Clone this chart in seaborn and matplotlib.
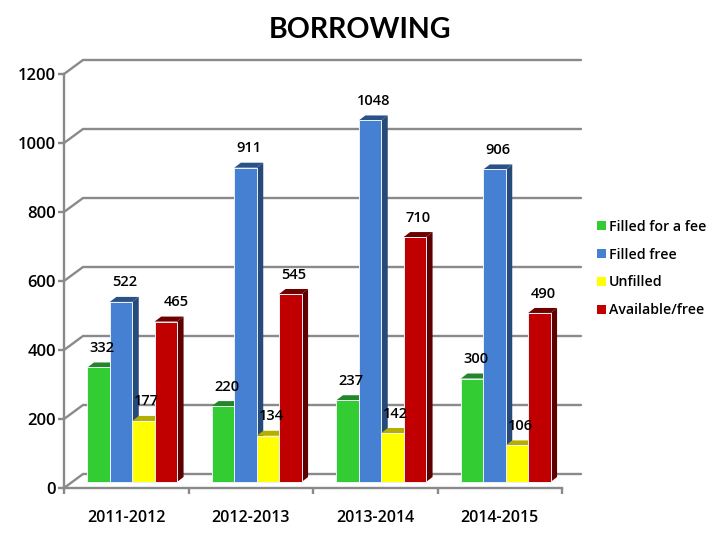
#!/usr/bin/env python3
"""Recreate the BORROWING pseudo-3D bar chart with seaborn."""

import matplotlib
matplotlib.use('Agg')
import matplotlib.pyplot as plt
from matplotlib.patches import Polygon, Patch
import pandas as pd
import seaborn as sns

years = ["2011-2012", "2012-2013", "2013-2014", "2014-2015"]
series_names = ["Filled for a fee", "Filled free", "Unfilled", "Available/free"]
filled_fee = [332, 220, 237, 300]
filled_free = [522, 911, 1048, 906]
unfilled = [177, 134, 142, 106]
available = [465, 545, 710, 490]
y_ticks = [0, 200, 400, 600, 800, 1000, 1200]

face_colors = ["#33CC33", "#4680D2", "#FFFF00", "#C00000"]
side_colors = ["#1F7F1F", "#264A7A", "#AFA800", "#5E0000"]
top_colors = ["#23862A", "#2A5288", "#B5AD00", "#6E0000"]
GRAY = "#8A8A8A"

sns.set_theme(style="white")
plt.rcParams['font.family'] = ['Open Sans', 'DejaVu Sans']

df = pd.DataFrame({
    "year": years * 4,
    "series": [n for n in series_names for _ in years],
    "value": filled_fee + filled_free + unfilled + available,
})

fig = plt.figure(figsize=(7.2, 5.4), dpi=100)
ax = fig.add_axes([64 / 720, (540 - 488) / 540, 498 / 720, 414 / 540])

sns.barplot(
    data=df, x="year", y="value", hue="series", palette=face_colors,
    width=0.72, gap=0, saturation=1, legend=False, ax=ax,
)

ax.set_xlim(-0.5, 3.5)
ax.set_ylim(0, 1200)
ax.set_xlabel("")
ax.set_ylabel("")

# one picture pixel in data units
PX = 4 / 498
PY = 1200 / 414

# back wall lines, drawn behind the bars
for v in y_ticks:
    ax.plot([-0.5, -0.5 + 19 * PX, 3.5 + 19 * PX], [v, v + 14 * PY, v + 14 * PY],
            color=GRAY, lw=1.7, clip_on=False, zorder=1, solid_joinstyle="miter")

# push the bars onto the floor and give them depth
for i, container in enumerate(ax.containers):
    z = 3 + i
    for bar in container:
        x0 = bar.get_x() + 6 * PX
        w = bar.get_width()
        h = bar.get_height()
        y0 = 6 * PY
        bar.set_x(x0)
        bar.set_y(y0)
        bar.set_edgecolor("#EAF2FA")
        bar.set_linewidth(0.7)
        bar.set_zorder(z + 0.5)
        bar.set_clip_on(False)
        dx, dy = 6.5 * PX, 5 * PY
        ax.add_patch(Polygon(
            [(x0 + w, y0), (x0 + w + dx, y0 + dy), (x0 + w + dx, y0 + h + dy), (x0 + w, y0 + h)],
            closed=True, facecolor=side_colors[i], edgecolor="none", clip_on=False, zorder=z))
        ax.add_patch(Polygon(
            [(x0, y0 + h), (x0 + dx, y0 + h + dy), (x0 + w + dx, y0 + h + dy), (x0 + w, y0 + h)],
            closed=True, facecolor=top_colors[i], edgecolor="none", clip_on=False, zorder=z))
        # value label sits up and to the right of the bar top
        shift = 10 if h == 465 else 3.5
        ax.annotate(
            f"{int(h)}", (x0 + w / 2, y0 + h), xytext=(shift * 0.72, 14),
            textcoords="offset points", ha="center", va="center",
            fontsize=10.5, fontweight="semibold", color="black", zorder=20,
            annotation_clip=False,
        )

sns.despine(ax=ax, top=True, right=True)
for name in ("left", "bottom"):
    ax.spines[name].set_color(GRAY)
    ax.spines[name].set_linewidth(1.7)
    ax.spines[name].set_zorder(2)

ax.set_yticks(y_ticks)
ax.set_xticks([-0.5, 0.5, 1.5, 2.5, 3.5])
ax.set_xticklabels([])
ax.set_xticks([0, 1, 2, 3], labels=years, minor=True)
ax.tick_params(axis="y", which="major", left=True, length=4.5, width=1.7, color=GRAY,
               labelsize=12, pad=1.5, labelcolor="black")
ax.tick_params(axis="x", which="major", bottom=True, length=4.5, width=1.7, color=GRAY)
ax.tick_params(axis="x", which="minor", bottom=False, length=0, labelsize=11.5, pad=16,
               labelcolor="black")
for lab in ax.get_yticklabels() + ax.get_xticklabels(minor=True):
    lab.set_fontweight("semibold")

fig.text(360 / 720, 1 - 29.5 / 540, "BORROWING", ha="center", va="center",
         fontsize=20.5, fontweight="bold", family=["Lato", "DejaVu Sans"], color="black")

handles = [Patch(facecolor=c, edgecolor="none", label=n) for c, n in zip(face_colors, series_names)]
leg = fig.legend(
    handles=handles, loc="center left", bbox_to_anchor=(597 / 720, 1 - 268.5 / 540),
    frameon=False, handlelength=0.6, handleheight=0.6, handletextpad=0.25,
    labelspacing=0.97, fontsize=10.2, borderpad=0, borderaxespad=0, labelcolor="black",
)
for t in leg.get_texts():
    t.set_fontweight("semibold")

fig.savefig("out.png", dpi=100)
